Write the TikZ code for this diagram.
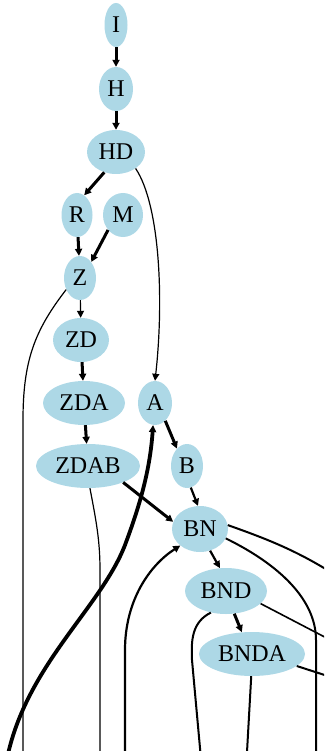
\documentclass[tikz,border=0pt]{standalone}
\usepackage{fontspec}
\setmainfont{Liberation Serif}
\usetikzlibrary{shapes.geometric,arrows.meta}
\definecolor{nodeblue}{HTML}{ADD8E6}
\tikzset{
  nd/.style={ellipse, fill=nodeblue, draw=none, inner sep=0pt, font=\fontsize{24}{24}\selectfont},
  e/.style={-{Triangle[length=7pt,width=7pt]}, line width=#1},
  e/.default=3pt,
  ln/.style={line width=#1},
  ln/.default=1.2pt
}
\begin{document}
\begin{tikzpicture}[x=1pt,y=-1pt]
\useasboundingbox (0,0) rectangle (324,751);
\clip (0,0) rectangle (324,751);
% nodes
\node[nd, minimum width=23pt, minimum height=44pt] (I) at (116,25) {I};
\node[nd, minimum width=34pt, minimum height=44pt] (H) at (116,89) {H};
\node[nd, minimum width=58pt, minimum height=44pt] (HD) at (116,152) {HD};
\node[nd, minimum width=31pt, minimum height=44pt] (R) at (77,215) {R};
\node[nd, minimum width=40pt, minimum height=44pt] (M) at (123,215) {M};
\node[nd, minimum width=32pt, minimum height=44pt] (Z) at (80,278) {Z};
\node[nd, minimum width=56pt, minimum height=44pt] (ZD) at (81,340) {ZD};
\node[nd, minimum width=82pt, minimum height=44pt] (ZDA) at (84,403) {ZDA};
\node[nd, minimum width=34pt, minimum height=44pt] (A) at (155,403) {A};
\node[nd, minimum width=104pt, minimum height=44pt] (ZDAB) at (88,466) {ZDAB};
\node[nd, minimum width=32pt, minimum height=44pt] (B) at (187,466) {B};
\node[nd, minimum width=56pt, minimum height=46pt] (BN) at (200,529) {BN};
\node[nd, minimum width=82pt, minimum height=46pt] (BND) at (226,591) {BND};
\node[nd, minimum width=106pt, minimum height=44pt] (BNDA) at (252,654) {BNDA};
% free ends
\coordinate (zb) at (23,770);
\coordinate (ab) at (5,770);
\coordinate (zdabb) at (100,770);
\coordinate (bnb) at (125,770);
\coordinate (bnr) at (340,578);
\coordinate (bnrb) at (316,770);
\coordinate (bndr) at (340,645);
\coordinate (bndb) at (202,770);
\coordinate (bndar) at (340,680);
\coordinate (bndab) at (246,770);
% edges
\draw[e] (I) -- (H);
\draw[e] (H) -- (HD);
\draw[e] (HD.-120) -- (R.70);
\draw[e] (R) -- (Z);
\draw[e] (M.-135) -- (Z.55);
\draw[e=1.2pt] (Z) -- (ZD);
\draw[e] (ZD) -- (ZDA);
\draw[e] (ZDA) -- (ZDAB);
\draw[e] (A.-60) -- (B.120);
\draw[e=2.2pt] (B.-80) -- (BN.95);
\draw[e] (ZDAB.-25) -- (BN.165);
\draw[e=1.2pt] (HD.-40) .. controls (160,205) and (164,300) .. (A.north);
\draw[e=3.8pt] (ab) .. controls (20,670) and (100,610) .. (125,545) .. controls (140,505) and (150,470) .. (A.-95);
\draw[e=2.2pt] (BN.-65) -- (BND.105);
\draw[e] (BND.-70) -- (BNDA.115);
\draw[e=2.2pt] (bnb) -- (125,650) .. controls (125,600) and (150,565) .. (BN.-140);
% lines leaving the picture
\draw[ln] (Z.-140) .. controls (35,330) and (23,360) .. (23,420) -- (zb);
\draw[ln] (ZDAB.-85) .. controls (96,520) and (100,540) .. (100,570) -- (zdabb);
\draw[ln=2pt] (BN.8) .. controls (270,540) and (300,552) .. (bnr);
\draw[ln=2pt] (BN.-20) .. controls (280,565) and (316,600) .. (316,640) -- (bnrb);
\draw[ln=1.6pt] (BND.-20) -- (bndr);
\draw[ln=2pt] (BND.-125) .. controls (192,622) and (191,640) .. (192,660) -- (bndb);
\draw[ln=2pt] (BNDA.-15) -- (bndar);
\draw[ln=2pt] (BNDA.-92) -- (bndab);
\end{tikzpicture}
\end{document}
